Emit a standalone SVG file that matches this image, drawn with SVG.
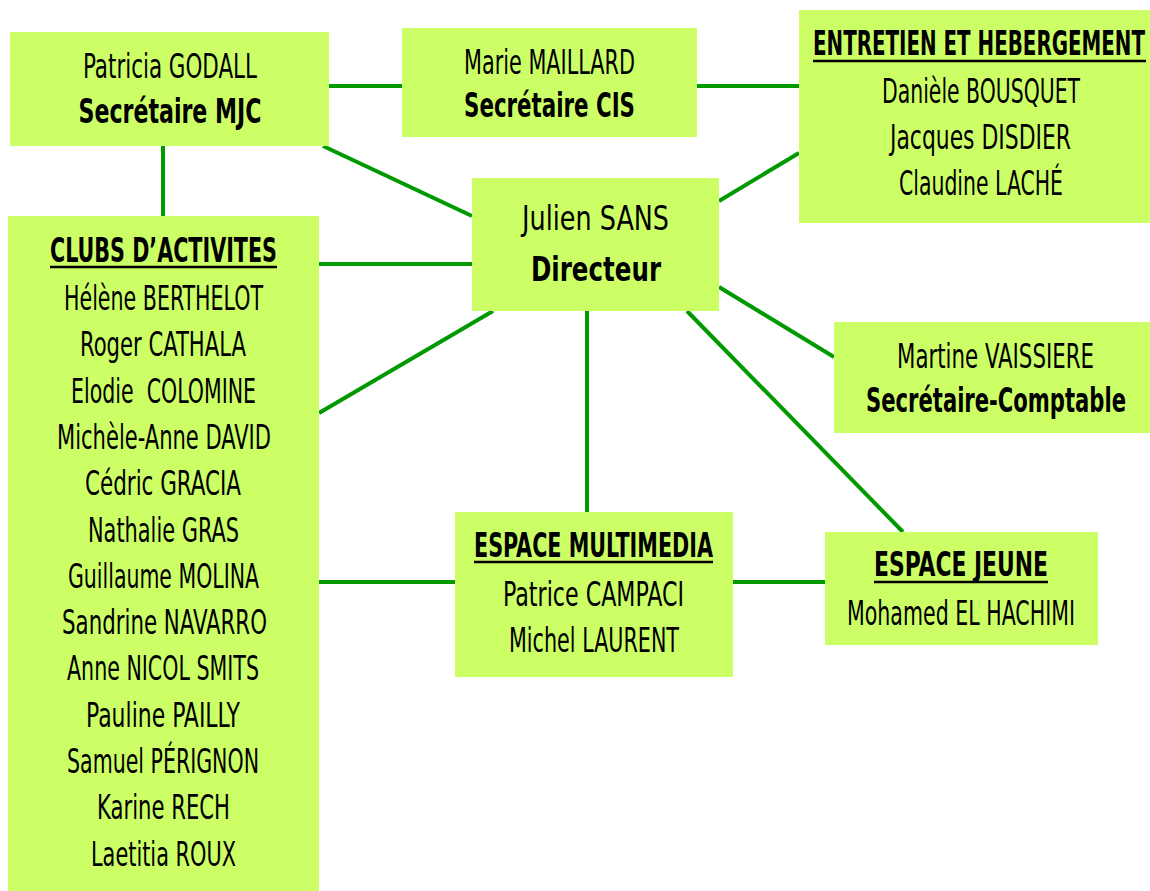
<svg xmlns="http://www.w3.org/2000/svg" width="1150" height="891" viewBox="0 0 1150 891">
<style>
.box{fill:#CCFF66;}
.c{stroke:#009900;stroke-width:4;fill:none;}
text{font-family:"DejaVu Sans Condensed","DejaVu Sans",sans-serif;font-stretch:condensed;font-size:34px;fill:#000;text-anchor:middle;}
.b{font-weight:bold;}
.u{stroke:#000;stroke-width:2.5;}
</style>
<rect width="1150" height="891" fill="#fff"/>
<g id="connectors">
<line class="c" x1="329" y1="86" x2="402" y2="86"/>
<line class="c" x1="697" y1="86" x2="799" y2="86"/>
<line class="c" x1="163" y1="146" x2="163" y2="216"/>
<line class="c" x1="323" y1="146" x2="472" y2="216"/>
<line class="c" x1="719" y1="201" x2="799" y2="153"/>
<line class="c" x1="319" y1="264" x2="472" y2="264"/>
<line class="c" x1="319" y1="413" x2="493" y2="311"/>
<line class="c" x1="587" y1="311" x2="587" y2="512"/>
<line class="c" x1="719" y1="287" x2="834" y2="357"/>
<line class="c" x1="687" y1="311" x2="903" y2="532"/>
<line class="c" x1="319" y1="582" x2="455" y2="582"/>
<line class="c" x1="733" y1="582" x2="825" y2="582"/>
</g>
<g id="patricia">
<rect class="box" x="10" y="32" width="319" height="114"/>
<text x="170" y="78" textLength="174" lengthAdjust="spacingAndGlyphs">Patricia GODALL</text>
<text class="b" x="170" y="123" textLength="183" lengthAdjust="spacingAndGlyphs">Secrétaire MJC</text>
</g>
<g id="marie">
<rect class="box" x="402" y="28" width="295" height="109"/>
<text x="549.5" y="74" textLength="171" lengthAdjust="spacingAndGlyphs">Marie MAILLARD</text>
<text class="b" x="549.5" y="117" textLength="171" lengthAdjust="spacingAndGlyphs">Secrétaire CIS</text>
</g>
<g id="entretien">
<rect class="box" x="799" y="10" width="351" height="213"/>
<text class="b" x="979" y="55" textLength="332" lengthAdjust="spacingAndGlyphs">ENTRETIEN ET HEBERGEMENT</text>
<line class="u" x1="813" y1="61" x2="1146" y2="61"/>
<text x="981" y="103" textLength="198" lengthAdjust="spacingAndGlyphs">Danièle BOUSQUET</text>
<text x="980.5" y="149" textLength="181" lengthAdjust="spacingAndGlyphs">Jacques DISDIER</text>
<text x="981" y="195" textLength="164" lengthAdjust="spacingAndGlyphs">Claudine LACHÉ</text>
</g>
<g id="julien">
<rect class="box" x="472" y="178" width="247" height="133"/>
<text x="595.5" y="230" textLength="147" lengthAdjust="spacingAndGlyphs">Julien SANS</text>
<text class="b" x="596" y="281" textLength="130" lengthAdjust="spacingAndGlyphs">Directeur</text>
</g>
<g id="clubs">
<rect class="box" x="8" y="216" width="311" height="675"/>
<text class="b" x="163.5" y="262" textLength="227" lengthAdjust="spacingAndGlyphs">CLUBS D’ACTIVITES</text>
<line class="u" x1="50" y1="267" x2="277" y2="267"/>
<text x="163.5" y="310" textLength="199" lengthAdjust="spacingAndGlyphs">Hélène BERTHELOT</text>
<text x="163" y="356.3" textLength="166" lengthAdjust="spacingAndGlyphs">Roger CATHALA</text>
<text x="163.5" y="402.6" textLength="185" lengthAdjust="spacingAndGlyphs" xml:space="preserve">Elodie  COLOMINE</text>
<text x="164" y="448.9" textLength="214" lengthAdjust="spacingAndGlyphs">Michèle-Anne DAVID</text>
<text x="163" y="495.2" textLength="156" lengthAdjust="spacingAndGlyphs">Cédric GRACIA</text>
<text x="163.5" y="541.5" textLength="151" lengthAdjust="spacingAndGlyphs">Nathalie GRAS</text>
<text x="163.5" y="587.8" textLength="191" lengthAdjust="spacingAndGlyphs">Guillaume MOLINA</text>
<text x="164.5" y="634.1" textLength="205" lengthAdjust="spacingAndGlyphs">Sandrine NAVARRO</text>
<text x="163" y="680.4" textLength="192" lengthAdjust="spacingAndGlyphs">Anne NICOL SMITS</text>
<text x="163" y="726.7" textLength="154" lengthAdjust="spacingAndGlyphs">Pauline PAILLY</text>
<text x="163" y="773" textLength="192" lengthAdjust="spacingAndGlyphs">Samuel PÉRIGNON</text>
<text x="163.5" y="819.3" textLength="133" lengthAdjust="spacingAndGlyphs">Karine RECH</text>
<text x="163.5" y="865.6" textLength="145" lengthAdjust="spacingAndGlyphs">Laetitia ROUX</text>
</g>
<g id="martine">
<rect class="box" x="834" y="322" width="316" height="111"/>
<text x="995.5" y="368" textLength="197" lengthAdjust="spacingAndGlyphs">Martine VAISSIERE</text>
<text class="b" x="996" y="412" textLength="260" lengthAdjust="spacingAndGlyphs">Secrétaire-Comptable</text>
</g>
<g id="multimedia">
<rect class="box" x="455" y="512" width="278" height="165"/>
<text class="b" x="593.5" y="557" textLength="239" lengthAdjust="spacingAndGlyphs">ESPACE MULTIMEDIA</text>
<line class="u" x1="474" y1="562" x2="713" y2="562"/>
<text x="593.5" y="606" textLength="181" lengthAdjust="spacingAndGlyphs">Patrice CAMPACI</text>
<text x="594" y="652" textLength="170" lengthAdjust="spacingAndGlyphs">Michel LAURENT</text>
</g>
<g id="jeune">
<rect class="box" x="825" y="532" width="273" height="113"/>
<text class="b" x="961" y="576" textLength="174" lengthAdjust="spacingAndGlyphs">ESPACE JEUNE</text>
<line class="u" x1="874" y1="582" x2="1048" y2="582"/>
<text x="961" y="625" textLength="228" lengthAdjust="spacingAndGlyphs">Mohamed EL HACHIMI</text>
</g>
</svg>
